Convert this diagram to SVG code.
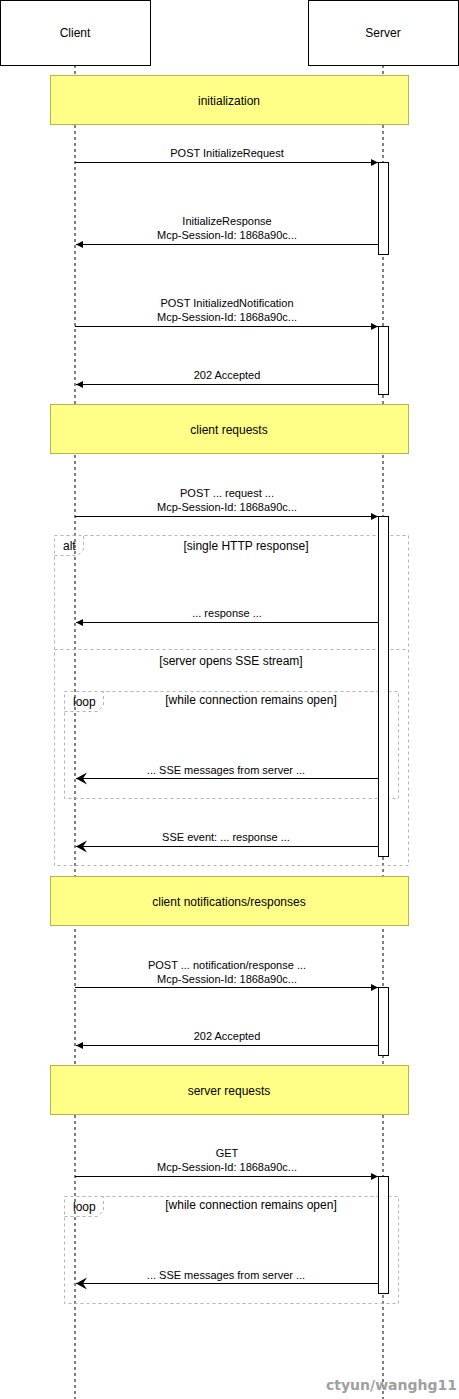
<svg xmlns="http://www.w3.org/2000/svg" width="459" height="1399" viewBox="0 0 459 1399">
<style>
text{font-family:"Liberation Sans",Arial,sans-serif;fill:#000}
.m{font-size:11px;text-anchor:middle}
.h{font-size:12px;text-anchor:middle}
.actor{fill:#fff;stroke:#000;stroke-width:1}
.life{stroke:#000;stroke-width:1;stroke-dasharray:3,3;fill:none}
.note{fill:#ffff88;stroke:#b5b54e;stroke-width:1}
.act{fill:#fff;stroke:#000;stroke-width:1}
.msg{stroke:#000;stroke-width:1;fill:none}
.frame{fill:none;stroke:#b3b3b3;stroke-width:1;stroke-dasharray:3,3}
.wm{font-family:"DejaVu Sans",sans-serif;font-size:14px;font-weight:bold;fill:#a0a0a0;text-anchor:end}
</style>
<defs>
<marker id="blk" markerWidth="8" markerHeight="8" refX="7" refY="4" orient="auto" markerUnits="userSpaceOnUse">
<path d="M0,0.5 L7,4 L0,7.5 Z" fill="#000"/>
</marker>
<marker id="opn" markerWidth="14" markerHeight="14" refX="11" refY="7" orient="auto" markerUnits="userSpaceOnUse">
<path d="M0,1 L11,7 L0,13 L4,7 Z" fill="#000"/>
</marker>
</defs>
<rect width="459" height="1399" fill="#fff"/>

<g id="client">
<line class="life" x1="75" y1="65" x2="75" y2="1399"/>
<rect class="actor" x="0.5" y="0.5" width="150" height="65"/>
<text class="h" x="75" y="37">Client</text>
</g>
<g id="server">
<line class="life" x1="383" y1="65" x2="383" y2="1399"/>
<rect class="actor" x="308.5" y="0.5" width="150" height="65"/>
<text class="h" x="383" y="37">Server</text>
</g>

<g id="note-init"><rect class="note" x="50.5" y="75.5" width="358" height="49"/><text class="h" x="229" y="105">initialization</text></g>
<g id="note-client-requests"><rect class="note" x="50.5" y="404.5" width="358" height="49"/><text class="h" x="229" y="434">client requests</text></g>
<g id="note-client-notif"><rect class="note" x="50.5" y="876.5" width="358" height="49"/><text class="h" x="229" y="906">client notifications/responses</text></g>
<g id="note-server-requests"><rect class="note" x="50.5" y="1065.5" width="358" height="49"/><text class="h" x="229" y="1095">server requests</text></g>

<g id="alt-frame">
<rect class="frame" x="54.5" y="535.5" width="354" height="330"/>
<path class="frame" d="M54.5,555.5 H77.5 L83.5,549.5 V535.5"/>
<text x="63" y="550" style="font-size:12px">alt</text>
<text class="h" x="246" y="550">[single HTTP response]</text>
<line class="frame" x1="54.5" y1="649.5" x2="408.5" y2="649.5"/>
<text class="h" x="231" y="665">[server opens SSE stream]</text>
</g>
<g id="loop-frame-1">
<rect class="frame" x="64.5" y="691.5" width="334" height="107"/>
<path class="frame" d="M64.5,711.5 H97.5 L103.5,705.5 V691.5"/>
<text x="73" y="706" style="font-size:12px">loop</text>
<text class="h" x="251" y="704">[while connection remains open]</text>
</g>
<g id="loop-frame-2">
<rect class="frame" x="64.5" y="1196.5" width="334" height="107"/>
<path class="frame" d="M64.5,1216.5 H97.5 L103.5,1210.5 V1196.5"/>
<text x="73" y="1211" style="font-size:12px">loop</text>
<text class="h" x="251" y="1209">[while connection remains open]</text>
</g>

<g id="activations">
<rect class="act" x="378.5" y="162.5" width="10" height="92"/>
<rect class="act" x="378.5" y="326.5" width="10" height="68"/>
<rect class="act" x="378.5" y="516.5" width="10" height="340"/>
<rect class="act" x="378.5" y="987.5" width="10" height="68"/>
<rect class="act" x="378.5" y="1176.5" width="10" height="117"/>
</g>

<g id="connectors">
<line class="msg" x1="75" y1="162.5" x2="378" y2="162.5" marker-end="url(#blk)"/>
<text class="m" x="227" y="157">POST InitializeRequest</text>

<line class="msg" x1="378" y1="244.5" x2="76" y2="244.5" marker-end="url(#blk)"/>
<text class="m" x="227" y="225">InitializeResponse</text>
<text class="m" x="227" y="239">Mcp-Session-Id: 1868a90c...</text>

<line class="msg" x1="75" y1="326.5" x2="378" y2="326.5" marker-end="url(#blk)"/>
<text class="m" x="227" y="307">POST InitializedNotification</text>
<text class="m" x="227" y="321">Mcp-Session-Id: 1868a90c...</text>

<line class="msg" x1="378" y1="384.5" x2="76" y2="384.5" marker-end="url(#blk)"/>
<text class="m" x="227" y="379">202 Accepted</text>

<line class="msg" x1="75" y1="516.5" x2="378" y2="516.5" marker-end="url(#blk)"/>
<text class="m" x="227" y="497">POST ... request ...</text>
<text class="m" x="227" y="511">Mcp-Session-Id: 1868a90c...</text>

<line class="msg" x1="378" y1="622.5" x2="76" y2="622.5" marker-end="url(#blk)"/>
<text class="m" x="227" y="617">... response ...</text>

<line class="msg" x1="378" y1="778.5" x2="76" y2="778.5" marker-end="url(#opn)"/>
<text class="m" x="226" y="774">... SSE messages from server ...</text>

<line class="msg" x1="378" y1="846.5" x2="76" y2="846.5" marker-end="url(#opn)"/>
<text class="m" x="226" y="841">SSE event: ... response ...</text>

<line class="msg" x1="75" y1="987.5" x2="378" y2="987.5" marker-end="url(#blk)"/>
<text class="m" x="227" y="969">POST ... notification/response ...</text>
<text class="m" x="227" y="983">Mcp-Session-Id: 1868a90c...</text>

<line class="msg" x1="378" y1="1045.5" x2="76" y2="1045.5" marker-end="url(#blk)"/>
<text class="m" x="227" y="1040">202 Accepted</text>

<line class="msg" x1="75" y1="1176.5" x2="378" y2="1176.5" marker-end="url(#blk)"/>
<text class="m" x="227" y="1157">GET</text>
<text class="m" x="227" y="1171">Mcp-Session-Id: 1868a90c...</text>

<line class="msg" x1="378" y1="1283.5" x2="76" y2="1283.5" marker-end="url(#opn)"/>
<text class="m" x="226" y="1279">... SSE messages from server ...</text>
</g>

<text class="wm" x="457" y="1390">ctyun/wanghg11</text>
</svg>
